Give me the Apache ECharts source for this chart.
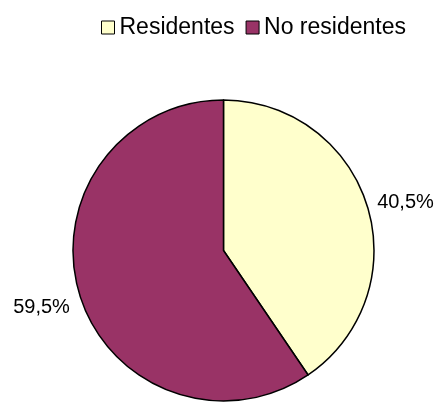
<!DOCTYPE html>
<html>
<head>
<meta charset="utf-8">
<script src="https://cdn.jsdelivr.net/npm/echarts@6/dist/echarts.min.js"></script>
<style>
  html, body { margin: 0; padding: 0; background: #ffffff; }
  #chart { width: 438px; height: 403px; }
</style>
</head>
<body>
<div id="chart"></div>
<script>
// Share of residents vs. non-residents
const categories = ['Residentes', 'No residentes'];
const values = [40.5, 59.5];
const colors = ['#FFFFCC', '#993366'];

const chart = echarts.init(document.getElementById('chart'), null, { renderer: 'canvas' });

const fontFamily = '"Liberation Sans", Arial, sans-serif';

chart.setOption({
  animation: false,
  backgroundColor: '#ffffff',
  legend: {
    data: categories,
    left: 96,
    top: 11,
    icon: 'rect',
    itemWidth: 13,
    itemHeight: 13,
    itemGap: 11,
    itemTextGap: 8,
    itemStyle: { borderColor: '#000000', borderWidth: 1 },
    textStyle: { fontFamily: fontFamily, fontSize: 23, color: '#000000' }
  },
  series: [{
    type: 'pie',
    center: [223.5, 250.5],
    radius: 150.5,
    startAngle: 90,
    clockwise: true,
    data: categories.map((name, i) => ({
      name: name,
      value: values[i],
      itemStyle: { color: colors[i] }
    })),
    itemStyle: { borderColor: '#000000', borderWidth: 1.5 },
    label: {
      show: true,
      position: 'outside',
      formatter: p => p.value.toFixed(1).replace('.', ',') + '%',
      fontFamily: fontFamily,
      fontSize: 20,
      color: '#000000',
      overflow: 'none',
      distanceToLabelLine: 5
    },
    labelLine: { show: false, length: 5, length2: 0 },
    // nudge the value labels a little off the rim
    labelLayout: p => (p.dataIndex === 1 ? { dy: 11 } : { dy: -2 }),
    emphasis: { disabled: true }
  }]
});
</script>
</body>
</html>
